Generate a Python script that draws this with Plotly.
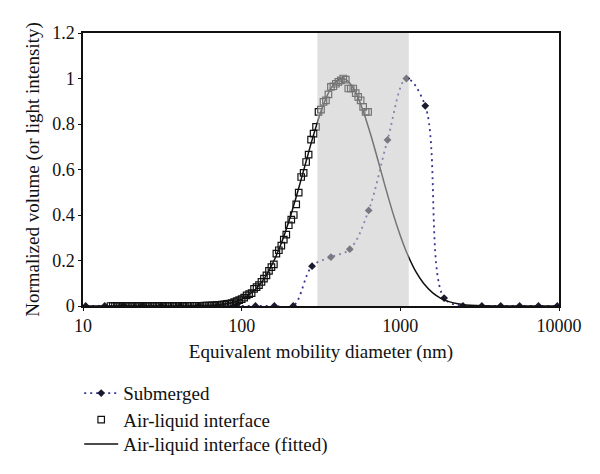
import plotly.graph_objects as go

# ---- data ----
sub_x = [10.4, 13.7, 18.0, 23.6, 31.1, 40.9, 53.7, 70.7, 92.9, 122.2, 160.7, 211.3,
         277.8, 365.3, 480.3, 631.6, 830.5, 1092, 1436, 1888, 2483, 3265, 4293,
         5645, 7423, 9760]
sub_y = [0, 0, 0, 0, 0, 0, 0, 0, 0, 0, 0, 0,
         0.175, 0.215, 0.25, 0.42, 0.73, 1.0, 0.88, 0.035, 0, 0, 0,
         0, 0, 0]

ali_x = [14.9, 15.4, 15.9, 16.5, 17.1, 17.8, 18.4, 19.1, 19.8, 20.5,
         21.3, 22.1, 22.9, 23.7, 24.6, 25.5, 26.4, 27.4, 28.4, 29.4,
         30.5, 31.6, 32.8, 34.0, 35.2, 36.5, 37.9, 39.2, 40.7, 42.2,
         43.7, 45.3, 47.0, 48.7, 50.5, 52.3, 54.2, 56.2, 58.3, 60.4,
         62.6, 64.9, 67.3, 69.8, 72.3, 75.0, 77.7, 80.6, 83.5, 86.6,
         89.8, 93.1, 96.5, 100.0, 103.7, 107.5, 111.4, 115.5, 119.7, 124.1,
         128.6, 133.3, 138.2, 143.3, 148.6, 154.0, 159.6, 165.5, 171.5, 177.8,
         184.3, 191.1, 198.1, 205.4, 212.9, 220.7, 228.8, 237.2, 245.8, 254.8,
         264.2, 273.8, 283.9, 294.3, 305.1, 316.3, 327.8, 339.8, 352.3, 365.2,
         378.6, 392.5, 406.9, 421.7, 437.1, 453.2, 469.8, 487.0, 504.8, 523.3,
         542.5, 562.3, 583.0, 604.3, 626.4]
ali_y = [0, 0, 0, 0, 0, 0, 0, 0, 0, 0,
         0, 0, 0, 0, 0, 0, 0, 0, 0, 0,
         0, 0, 0, 0, 0, 0, 0, 0, 0, 0,
         0, 0, 0.001, 0.001, 0.001, 0.001, 0.001, 0.001, 0.002, 0.002,
         0.002, 0.003, 0.003, 0.004, 0.005, 0.006, 0.007, 0.009, 0.011, 0.013,
         0.017, 0.021, 0.026, 0.030, 0.037, 0.047, 0.052, 0.057, 0.075, 0.083,
         0.092, 0.106, 0.120, 0.135, 0.154, 0.171, 0.183, 0.230, 0.245, 0.265,
         0.292, 0.314, 0.355, 0.380, 0.400, 0.447, 0.498, 0.567, 0.585, 0.633,
         0.665, 0.731, 0.758, 0.787, 0.853, 0.863, 0.897, 0.904, 0.930, 0.963,
         0.966, 0.977, 0.985, 0.992, 1.000, 0.995, 0.956, 0.956, 0.956, 0.936,
         0.919, 0.904, 0.875, 0.853, 0.853]

fit_x = [10, 20, 30, 40, 50, 60, 70, 80, 90, 100, 120, 140, 160, 180, 200, 225, 250,
         280, 320, 360, 400, 430, 470, 520, 580, 650, 720, 800, 900, 1000, 1100,
         1250, 1400, 1600, 1800, 2000, 2300, 2600, 3000, 4000, 5000, 7000, 10000]
fit_y = [0, 0, 0, 0.0001, 0.0005, 0.0017, 0.0043, 0.0094, 0.0176, 0.0298, 0.068,
         0.125, 0.200, 0.286, 0.380, 0.50, 0.615, 0.738, 0.866, 0.949, 0.991, 1.0,
         0.987, 0.942, 0.862, 0.754, 0.645, 0.529, 0.406, 0.309, 0.233, 0.152,
         0.100, 0.0577, 0.0337, 0.0202, 0.0096, 0.0047, 0.002, 0.0003, 0, 0, 0]

shade_range = [300, 1130]
x_tickvals = [10, 100, 1000, 10000]
x_ticktext = ["10", "100", "1000", "10000"]
y_tickvals = [0, 0.2, 0.4, 0.6, 0.8, 1.0, 1.2]

FONT = "Liberation Serif"
INK = "#111111"

fig = go.Figure()
fig.add_trace(go.Scatter(
    x=sub_x, y=sub_y, name="Submerged", mode="lines+markers", legend="legend",
    line=dict(color="#35358f", width=1.8, dash="2px,4px", shape="spline", smoothing=1.0),
    marker=dict(symbol="diamond", size=6, color="#1a1a30"),
))
fig.add_trace(go.Scatter(
    x=ali_x, y=ali_y, name="Air-liquid interface", mode="markers", legend="legend2",
    marker=dict(symbol="square-open", size=6.5, color=INK, line=dict(width=1.2, color=INK)),
))
fig.add_trace(go.Scatter(
    x=fit_x, y=fit_y, name="Air-liquid interface (fitted)", mode="lines", legend="legend3",
    line=dict(color=INK, width=1.5, shape="spline", smoothing=0.8),
))

fig.add_shape(type="rect", xref="x", yref="y",
              x0=shade_range[0], x1=shade_range[1], y0=0, y1=1.2,
              fillcolor="rgba(199,199,199,0.55)", line=dict(width=0), layer="above")

leg = dict(xanchor="left", yanchor="middle", font=dict(family=FONT, size=19, color=INK),
           bgcolor="rgba(0,0,0,0)", itemwidth=34)
fig.update_layout(
    width=600, height=474,
    margin=dict(l=75, r=49, t=24.5, b=176.3, autoexpand=False),
    paper_bgcolor="white", plot_bgcolor="white",
    font=dict(family=FONT, size=18, color=INK),
    showlegend=True,
    legend=dict(leg, x=-0.008, y=-0.3195),
    legend2=dict(leg, x=-0.008, y=-0.417),
    legend3=dict(leg, x=-0.008, y=-0.506),
)
fig.update_xaxes(
    type="log", range=[1, 4], tickvals=x_tickvals, ticktext=x_ticktext,
    showline=True, linecolor=INK, linewidth=1.5, mirror=True,
    ticks="outside", ticklen=3, tickcolor=INK, showgrid=False, zeroline=False,
    title=dict(text="Equivalent mobility diameter (nm)", font=dict(size=19), standoff=9),
    tickfont=dict(size=18),
)
fig.update_yaxes(
    range=[0, 1.2], tickvals=y_tickvals,
    showline=True, linecolor=INK, linewidth=1.5, mirror=True,
    ticks="outside", ticklen=3, tickcolor=INK, showgrid=False, zeroline=False,
    title=dict(text="Normalized volume (or light intensity)", font=dict(size=19), standoff=8),
    tickfont=dict(size=18),
)

fig.write_html("out.html")
